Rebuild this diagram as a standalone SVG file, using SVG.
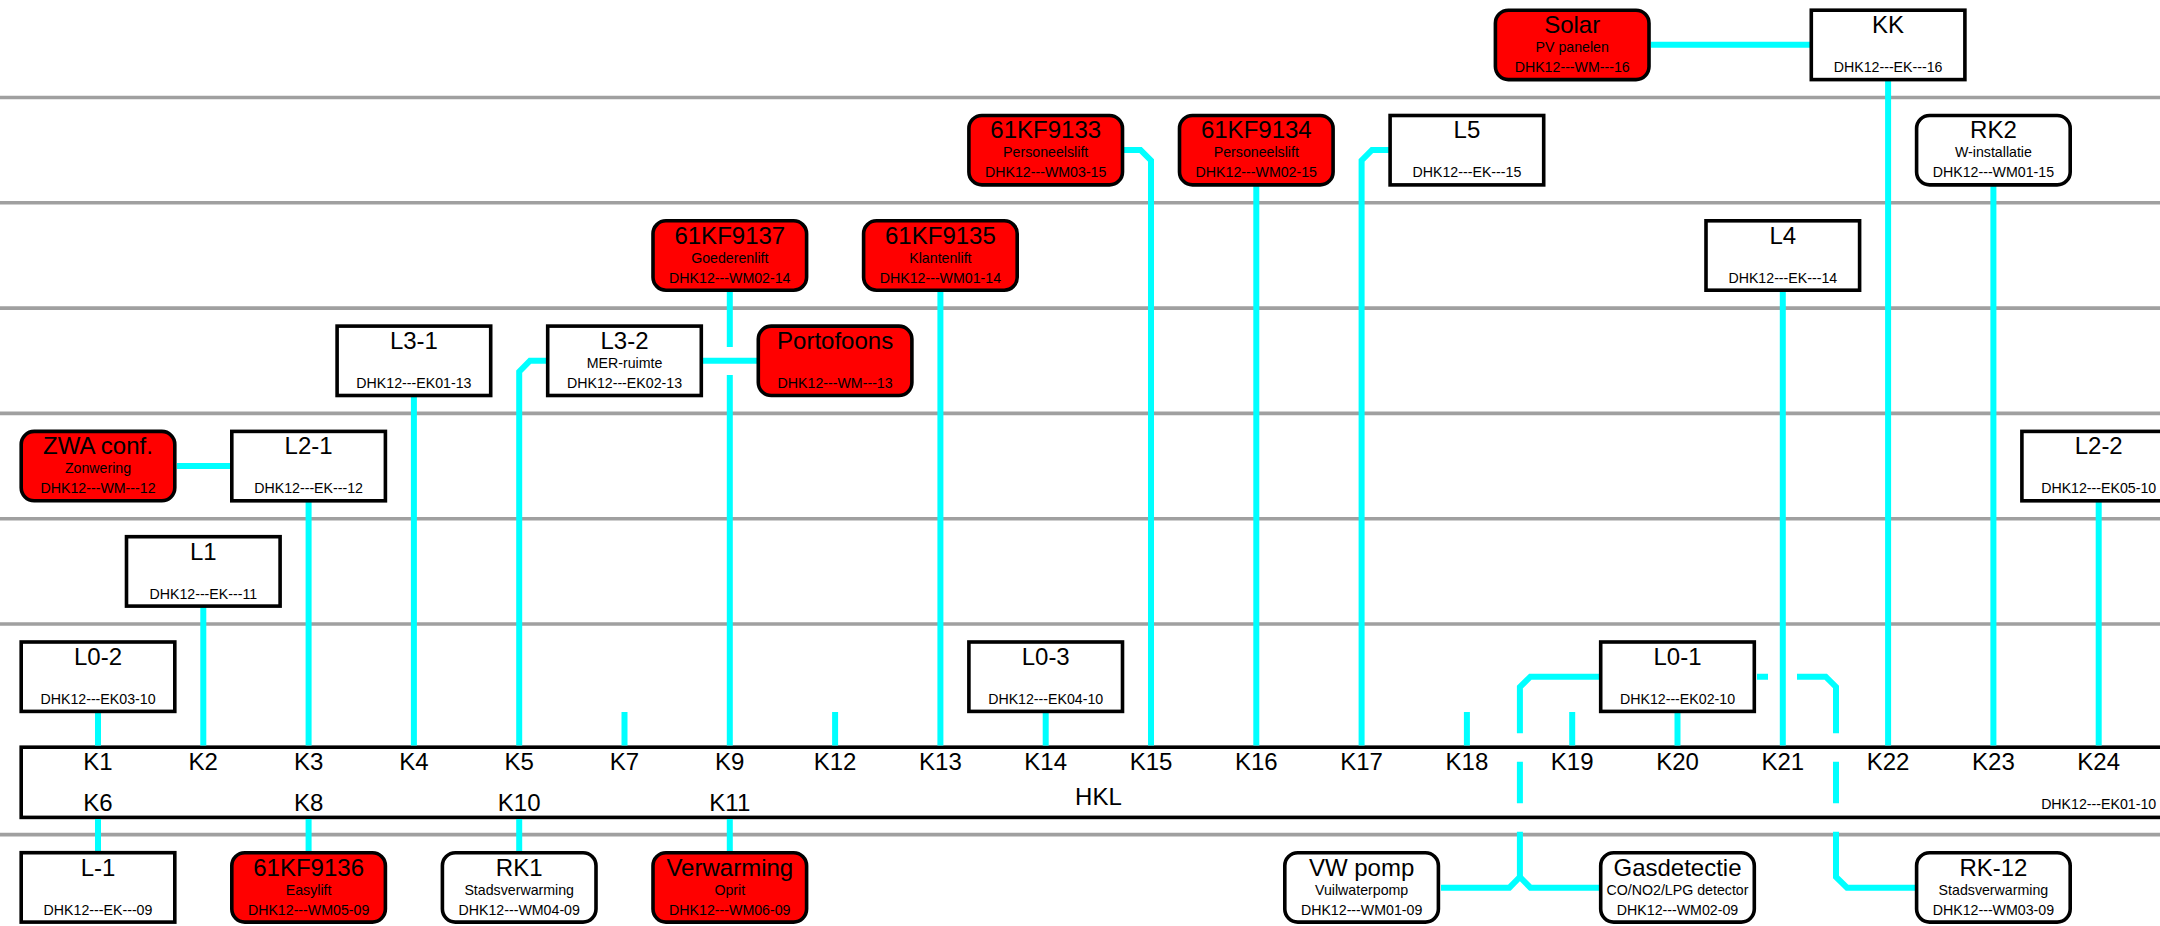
<svg xmlns="http://www.w3.org/2000/svg" width="2160" height="926" viewBox="0 0 2160 926">
<style>
text{font-family:"Liberation Sans",Arial,sans-serif;fill:#000;text-anchor:middle}
.t{font-size:24px}.s{font-size:14.2px}
.f{fill:none;stroke:#a0a0a0;stroke-width:3.6}
.c{fill:none;stroke:#0ff;stroke-width:6;stroke-linejoin:miter}
.b{fill:#fff;stroke:#000;stroke-width:3.6}
.w{fill:#fff;stroke:#000;stroke-width:3.6;rx:13px;ry:13px}
.r{fill:#f00;stroke:#000;stroke-width:3.6;rx:13px;ry:13px}
</style>
<rect width="2160" height="926" fill="#fff"/>
<g id="floors">
<path class="f" d="M0 97.5H2160M0 202.8H2160M0 308.1H2160M0 413.4H2160M0 518.7H2160M0 624H2160M0 834.6H2160"/>
</g>
<g id="HKL">
<rect class="b" x="21.2" y="747.2" width="2200" height="70.2"/>
<text class="t" x="98" y="770">K1</text><text class="t" x="203.3" y="770">K2</text><text class="t" x="308.6" y="770">K3</text><text class="t" x="413.9" y="770">K4</text><text class="t" x="519.2" y="770">K5</text><text class="t" x="624.5" y="770">K7</text><text class="t" x="729.8" y="770">K9</text><text class="t" x="835.1" y="770">K12</text><text class="t" x="940.4" y="770">K13</text><text class="t" x="1045.7" y="770">K14</text><text class="t" x="1151" y="770">K15</text><text class="t" x="1256.3" y="770">K16</text><text class="t" x="1361.6" y="770">K17</text><text class="t" x="1466.9" y="770">K18</text><text class="t" x="1572.2" y="770">K19</text><text class="t" x="1677.5" y="770">K20</text><text class="t" x="1782.8" y="770">K21</text><text class="t" x="1888.1" y="770">K22</text><text class="t" x="1993.4" y="770">K23</text><text class="t" x="2098.7" y="770">K24</text>
<text class="t" x="98" y="811">K6</text><text class="t" x="308.6" y="811">K8</text><text class="t" x="519.2" y="811">K10</text><text class="t" x="729.8" y="811">K11</text>
<text class="t" x="1098.4" y="805">HKL</text>
<text class="s" x="2098.7" y="809">DHK12---EK01-10</text>
</g>
<g id="connectors">
<path class="c" d="M1651 44.7H1811M1888.1 81V745.6"/>
<path class="c" d="M1124 150H1140.5L1151 160.5V745.6"/>
<path class="c" d="M1256.3 186V745.6"/>
<path class="c" d="M1390 150H1372L1361.6 160.5V745.6"/>
<path class="c" d="M1993.4 186V745.6"/>
<path class="c" d="M729.8 291V347M729.8 375V745.6"/>
<path class="c" d="M940.4 291V745.6"/>
<path class="c" d="M1782.8 291V745.6"/>
<path class="c" d="M413.9 396V745.6"/>
<path class="c" d="M546 360.7H530L519.2 371.7V745.6"/>
<path class="c" d="M703 360.7H757"/>
<path class="c" d="M177 466H231"/>
<path class="c" d="M308.6 502V745.6"/>
<path class="c" d="M2098.7 502V745.6"/>
<path class="c" d="M203.3 607V745.6"/>
<path class="c" d="M98 712V745.6"/>
<path class="c" d="M1045.7 712V745.6"/>
<path class="c" d="M1677.5 712V745.6"/>
<path class="c" d="M624.5 712V745.6M835.1 712V745.6M1466.9 712V745.6M1572.2 712V745.6"/>
<path class="c" d="M1600 676.7H1530.4L1519.9 687V733.3M1519.9 761.7V803.3M1519.9 831.7V877"/>
<path class="c" d="M1441 887.7H1509.4L1519.9 877L1530.4 887.7H1600"/>
<path class="c" d="M1757 676.7H1768M1797 676.7H1825.7L1836 687V733.3M1836 761.7V803.3M1836 831.7V877L1847 887.7H1916"/>
<path class="c" d="M98 819V851M308.6 819V851M519.2 819V851M729.8 819V851"/>
</g>
<g id="Solar" transform="translate(1572.2 8.5)"><rect class="r" x="-76.8" y="1.7" width="153.6" height="69.4"/><text class="t" y="24.6">Solar</text><text class="s" y="43.6">PV panelen</text><text class="s" y="63.5">DHK12---WM---16</text></g>
<g id="KK" transform="translate(1888.1 8.5)"><rect class="b" x="-76.8" y="1.7" width="153.6" height="69.4"/><text class="t" y="24.6">KK</text><text class="s" y="63.5">DHK12---EK---16</text></g>
<g id="n61KF9133" transform="translate(1045.7 113.8)"><rect class="r" x="-76.8" y="1.7" width="153.6" height="69.4"/><text class="t" y="24.6">61KF9133</text><text class="s" y="43.6">Personeelslift</text><text class="s" y="63.5">DHK12---WM03-15</text></g>
<g id="n61KF9134" transform="translate(1256.3 113.8)"><rect class="r" x="-76.8" y="1.7" width="153.6" height="69.4"/><text class="t" y="24.6">61KF9134</text><text class="s" y="43.6">Personeelslift</text><text class="s" y="63.5">DHK12---WM02-15</text></g>
<g id="L5" transform="translate(1466.9 113.8)"><rect class="b" x="-76.8" y="1.7" width="153.6" height="69.4"/><text class="t" y="24.6">L5</text><text class="s" y="63.5">DHK12---EK---15</text></g>
<g id="RK2" transform="translate(1993.4 113.8)"><rect class="w" x="-76.8" y="1.7" width="153.6" height="69.4"/><text class="t" y="24.6">RK2</text><text class="s" y="43.6">W-installatie</text><text class="s" y="63.5">DHK12---WM01-15</text></g>
<g id="n61KF9137" transform="translate(729.8 219.1)"><rect class="r" x="-76.8" y="1.7" width="153.6" height="69.4"/><text class="t" y="24.6">61KF9137</text><text class="s" y="43.6">Goederenlift</text><text class="s" y="63.5">DHK12---WM02-14</text></g>
<g id="n61KF9135" transform="translate(940.4 219.1)"><rect class="r" x="-76.8" y="1.7" width="153.6" height="69.4"/><text class="t" y="24.6">61KF9135</text><text class="s" y="43.6">Klantenlift</text><text class="s" y="63.5">DHK12---WM01-14</text></g>
<g id="L4" transform="translate(1782.8 219.1)"><rect class="b" x="-76.8" y="1.7" width="153.6" height="69.4"/><text class="t" y="24.6">L4</text><text class="s" y="63.5">DHK12---EK---14</text></g>
<g id="L3-1" transform="translate(413.9 324.4)"><rect class="b" x="-76.8" y="1.7" width="153.6" height="69.4"/><text class="t" y="24.6">L3-1</text><text class="s" y="63.5">DHK12---EK01-13</text></g>
<g id="L3-2" transform="translate(624.5 324.4)"><rect class="b" x="-76.8" y="1.7" width="153.6" height="69.4"/><text class="t" y="24.6">L3-2</text><text class="s" y="43.6">MER-ruimte</text><text class="s" y="63.5">DHK12---EK02-13</text></g>
<g id="Portofoons" transform="translate(835.1 324.4)"><rect class="r" x="-76.8" y="1.7" width="153.6" height="69.4"/><text class="t" y="24.6">Portofoons</text><text class="s" y="63.5">DHK12---WM---13</text></g>
<g id="ZWA" transform="translate(98 429.7)"><rect class="r" x="-76.8" y="1.7" width="153.6" height="69.4"/><text class="t" y="24.6">ZWA conf.</text><text class="s" y="43.6">Zonwering</text><text class="s" y="63.5">DHK12---WM---12</text></g>
<g id="L2-1" transform="translate(308.6 429.7)"><rect class="b" x="-76.8" y="1.7" width="153.6" height="69.4"/><text class="t" y="24.6">L2-1</text><text class="s" y="63.5">DHK12---EK---12</text></g>
<g id="L2-2" transform="translate(2098.7 429.7)"><rect class="b" x="-76.8" y="1.7" width="153.6" height="69.4"/><text class="t" y="24.6">L2-2</text><text class="s" y="63.5">DHK12---EK05-10</text></g>
<g id="L1" transform="translate(203.3 535)"><rect class="b" x="-76.8" y="1.7" width="153.6" height="69.4"/><text class="t" y="24.6">L1</text><text class="s" y="63.5">DHK12---EK---11</text></g>
<g id="L0-2" transform="translate(98 640.3)"><rect class="b" x="-76.8" y="1.7" width="153.6" height="69.4"/><text class="t" y="24.6">L0-2</text><text class="s" y="63.5">DHK12---EK03-10</text></g>
<g id="L0-3" transform="translate(1045.7 640.3)"><rect class="b" x="-76.8" y="1.7" width="153.6" height="69.4"/><text class="t" y="24.6">L0-3</text><text class="s" y="63.5">DHK12---EK04-10</text></g>
<g id="L0-1" transform="translate(1677.5 640.3)"><rect class="b" x="-76.8" y="1.7" width="153.6" height="69.4"/><text class="t" y="24.6">L0-1</text><text class="s" y="63.5">DHK12---EK02-10</text></g>
<g id="L-1" transform="translate(98 851)"><rect class="b" x="-76.8" y="1.7" width="153.6" height="69.4"/><text class="t" y="24.6">L-1</text><text class="s" y="63.5">DHK12---EK---09</text></g>
<g id="n61KF9136" transform="translate(308.6 851)"><rect class="r" x="-76.8" y="1.7" width="153.6" height="69.4"/><text class="t" y="24.6">61KF9136</text><text class="s" y="43.6">Easylift</text><text class="s" y="63.5">DHK12---WM05-09</text></g>
<g id="RK1" transform="translate(519.2 851)"><rect class="w" x="-76.8" y="1.7" width="153.6" height="69.4"/><text class="t" y="24.6">RK1</text><text class="s" y="43.6">Stadsverwarming</text><text class="s" y="63.5">DHK12---WM04-09</text></g>
<g id="Verwarming" transform="translate(729.8 851)"><rect class="r" x="-76.8" y="1.7" width="153.6" height="69.4"/><text class="t" y="24.6">Verwarming</text><text class="s" y="43.6">Oprit</text><text class="s" y="63.5">DHK12---WM06-09</text></g>
<g id="VWpomp" transform="translate(1361.6 851)"><rect class="w" x="-76.8" y="1.7" width="153.6" height="69.4"/><text class="t" y="24.6">VW pomp</text><text class="s" y="43.6">Vuilwaterpomp</text><text class="s" y="63.5">DHK12---WM01-09</text></g>
<g id="Gasdetectie" transform="translate(1677.5 851)"><rect class="w" x="-76.8" y="1.7" width="153.6" height="69.4"/><text class="t" y="24.6">Gasdetectie</text><text class="s" y="43.6">CO/NO2/LPG detector</text><text class="s" y="63.5">DHK12---WM02-09</text></g>
<g id="RK-12" transform="translate(1993.4 851)"><rect class="w" x="-76.8" y="1.7" width="153.6" height="69.4"/><text class="t" y="24.6">RK-12</text><text class="s" y="43.6">Stadsverwarming</text><text class="s" y="63.5">DHK12---WM03-09</text></g>
</svg>
